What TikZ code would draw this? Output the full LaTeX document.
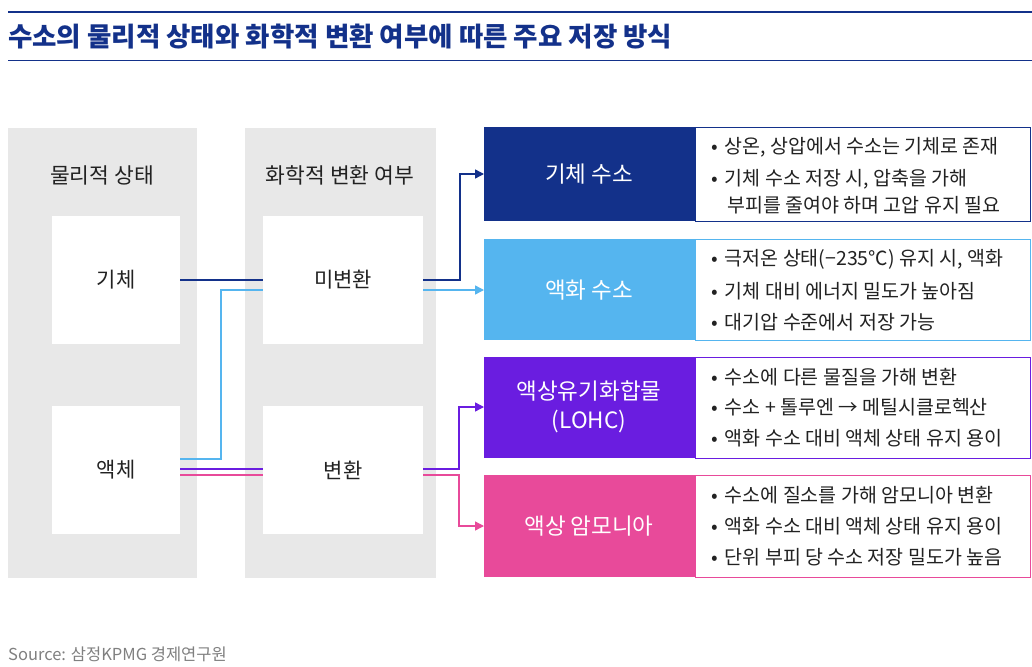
\documentclass[tikz,border=0pt]{standalone}
\usepackage{fontspec}
\setmainfont{Noto Sans CJK KR}
\usetikzlibrary{arrows.meta}
\definecolor{navy}{HTML}{13318A}
\definecolor{sky}{HTML}{55B5EF}
\definecolor{purp}{HTML}{6A1DE0}
\definecolor{pink}{HTML}{E84A9A}
\definecolor{gcol}{HTML}{E8E8E8}
\definecolor{txt}{HTML}{222222}
\begin{document}
\begin{tikzpicture}[x=1pt,y=-1pt,
  wbox/.style={fill=white,draw=none,minimum width=#1,minimum height=128,inner sep=0,font=\fontsize{21}{24}\selectfont,text=txt},
  hd/.style={font=\fontsize{21.5}{24}\selectfont,text=txt},
  cbox/.style={draw=none,text=white,font=\fontsize{22.5}{29}\selectfont,align=center},
  dbox/.style={draw=#1,fill=white,line width=1pt},
  bl/.style={anchor=west,font=\fontsize{19.5}{22}\selectfont,text=txt,inner sep=0},
  con/.style={line width=1.4pt,draw=#1},
  arr/.style={line width=1.4pt,draw=#1,-{Triangle[length=9pt,width=9pt]}}]
\useasboundingbox (0,0) rectangle (1032,666);
\fill[white] (0,0) rectangle (1032,666);
% title
\draw[navy,line width=1.5pt] (8,12) -- (1032,12);
\draw[navy,line width=0.7pt] (8,60) -- (1032,60);
\node[anchor=west,inner sep=0,font=\fontsize{26.5}{30}\selectfont\bfseries,text=navy] (title) at (8,37) {수소의 물리적 상태와 화학적 변환 여부에 따른 주요 저장 방식};
% columns
\fill[gcol] (8,128) rectangle (197,578);
\fill[gcol] (245,128) rectangle (436,578);
\node[hd] (h1) at (102,175) {물리적 상태};
\node[hd] (h2) at (340,175) {화학적 변환 여부};
\node[wbox=128] (gas) at (116,280) {기체};
\node[wbox=128] (liq) at (116,470) {액체};
\node[wbox=160] (nc) at (343,280) {미변환};
\node[wbox=160] (cv) at (343,470) {변환};
% colored boxes
\fill[navy] (484,127) rectangle (695,221);
\fill[sky] (484,239) rectangle (695,340);
\fill[purp] (484,357) rectangle (695,458);
\fill[pink] (484,475) rectangle (695,577);
\node[cbox] (b1) at (589,174) {기체 수소};
\node[cbox] (b2) at (589,290) {액화 수소};
\node[cbox] (b3) at (589,407) {액상유기화합물\\(LOHC)};
\node[cbox] (b4) at (589,526) {액상 암모니아};
\draw[dbox=navy] (695,127.5) rectangle (1030,221);
\draw[dbox=sky] (695,239.5) rectangle (1030,340);
\draw[dbox=purp] (695,357.5) rectangle (1030,458);
\draw[dbox=pink] (695,475.5) rectangle (1030,577);
% bullets
\foreach \y/\t in {147/상온{,} 상압에서 수소는 기체로 존재, 179/기체 수소 저장 시{,} 압축을 가해, 259/극저온 상태(−235℃) 유지 시{,} 액화, 291/기체 대비 에너지 밀도가 높아짐, 322/대기압 수준에서 저장 가능, 377/수소에 다른 물질을 가해 변환, 407/수소 + 톨루엔 → 메틸시클로헥산, 438/액화 수소 대비 액체 상태 유지 용이, 495/수소에 질소를 가해 암모니아 변환, 526/액화 수소 대비 액체 상태 유지 용이, 557/단위 부피 당 수소 저장 밀도가 높음}{
  \node[bl] at (711,\y) {•\hspace{7pt}\t};
}
\node[bl] at (727,205) {부피를 줄여야 하며 고압 유지 필요};
% connectors
\draw[con=navy] (gas.east) -- (nc.west);
\draw[arr=navy] (nc.east) -- (460,280) -- (460,174) -- (484,174);
\draw[con=sky] (liq.east |- 0,459) -- (221,459) -- (221,290) -- (nc.west |- 0,290);
\draw[arr=sky] (nc.east |- 0,290) -- (484,290);
\draw[con=purp] (liq.east |- 0,469) -- (cv.west |- 0,469);
\draw[arr=purp] (cv.east |- 0,469) -- (459,469) -- (459,407) -- (484,407);
\draw[con=pink] (liq.east |- 0,475) -- (cv.west |- 0,475);
\draw[arr=pink] (cv.east |- 0,475) -- (459,475) -- (459,526) -- (484,526);
\node[anchor=west,inner sep=0,font=\fontsize{16.5}{18}\selectfont,text=gray] (src) at (8,654) {Source: 삼정KPMG 경제연구원};
\end{tikzpicture}
\end{document}
